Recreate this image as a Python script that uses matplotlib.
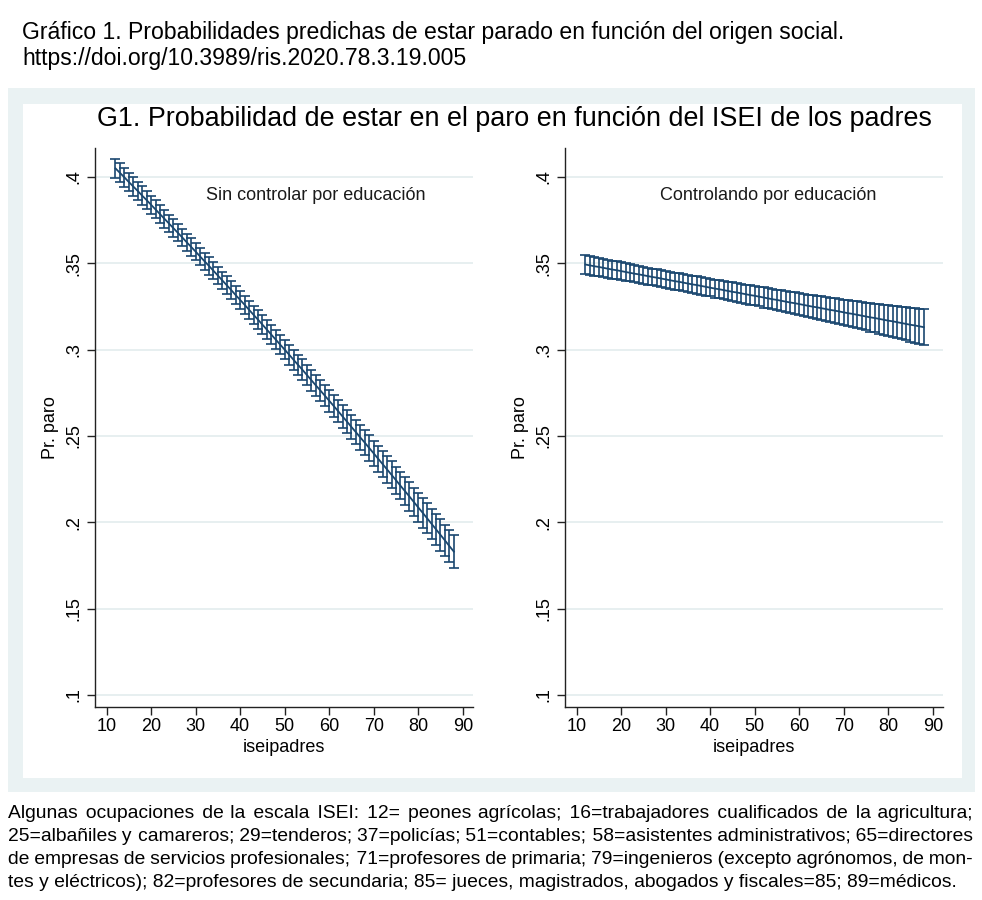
import matplotlib
matplotlib.use("Agg")
import matplotlib.pyplot as plt
from matplotlib.patches import Rectangle

plt.rcParams['font.family'] = ['Liberation Sans', 'DejaVu Sans']

# ---------------- data ----------------
isei = list(range(12, 89))

pred_sin = [0.4050, 0.4024, 0.3998, 0.3971, 0.3945, 0.3919, 0.3892, 0.3866, 0.3839, 0.3812,
            0.3785, 0.3758, 0.3731, 0.3704, 0.3677, 0.3650, 0.3622, 0.3595, 0.3568, 0.3540,
            0.3512, 0.3485, 0.3457, 0.3429, 0.3401, 0.3373, 0.3345, 0.3316, 0.3288, 0.3260,
            0.3231, 0.3202, 0.3174, 0.3145, 0.3116, 0.3087, 0.3058, 0.3029, 0.3000, 0.2971,
            0.2941, 0.2912, 0.2883, 0.2853, 0.2823, 0.2793, 0.2764, 0.2734, 0.2704, 0.2674,
            0.2644, 0.2613, 0.2583, 0.2552, 0.2522, 0.2491, 0.2461, 0.2430, 0.2399, 0.2368,
            0.2337, 0.2306, 0.2275, 0.2244, 0.2212, 0.2181, 0.2150, 0.2118, 0.2086, 0.2055,
            0.2023, 0.1991, 0.1959, 0.1927, 0.1895, 0.1862, 0.1830]
ci_sin = [0.0055, 0.0055, 0.0054, 0.0054, 0.0053, 0.0053, 0.0053, 0.0052, 0.0052, 0.0052,
          0.0051, 0.0051, 0.0051, 0.0051, 0.0050, 0.0050, 0.0050, 0.0050, 0.0050, 0.0050,
          0.0050, 0.0050, 0.0050, 0.0051, 0.0051, 0.0051, 0.0051, 0.0052, 0.0052, 0.0052,
          0.0053, 0.0053, 0.0054, 0.0054, 0.0055, 0.0055, 0.0056, 0.0056, 0.0057, 0.0058,
          0.0058, 0.0059, 0.0060, 0.0060, 0.0061, 0.0062, 0.0062, 0.0063, 0.0064, 0.0065,
          0.0066, 0.0067, 0.0068, 0.0069, 0.0070, 0.0071, 0.0072, 0.0073, 0.0074, 0.0075,
          0.0076, 0.0077, 0.0078, 0.0079, 0.0080, 0.0081, 0.0082, 0.0083, 0.0085, 0.0086,
          0.0087, 0.0088, 0.0089, 0.0091, 0.0092, 0.0093, 0.0095]

pred_con = [0.3493, 0.3488, 0.3483, 0.3479, 0.3474, 0.3469, 0.3464, 0.3460, 0.3455, 0.3450,
            0.3445, 0.3440, 0.3436, 0.3431, 0.3426, 0.3421, 0.3417, 0.3412, 0.3407, 0.3402,
            0.3397, 0.3393, 0.3388, 0.3383, 0.3378, 0.3374, 0.3369, 0.3364, 0.3359, 0.3354,
            0.3350, 0.3345, 0.3340, 0.3335, 0.3331, 0.3326, 0.3321, 0.3316, 0.3312, 0.3307,
            0.3302, 0.3297, 0.3292, 0.3288, 0.3283, 0.3278, 0.3273, 0.3269, 0.3264, 0.3259,
            0.3254, 0.3249, 0.3245, 0.3240, 0.3235, 0.3230, 0.3226, 0.3221, 0.3216, 0.3211,
            0.3207, 0.3202, 0.3197, 0.3192, 0.3187, 0.3183, 0.3178, 0.3173, 0.3168, 0.3164,
            0.3159, 0.3154, 0.3149, 0.3144, 0.3140, 0.3135, 0.3130]
ci_con = [0.0055, 0.0054, 0.0054, 0.0053, 0.0053, 0.0052, 0.0052, 0.0051, 0.0051, 0.0051,
          0.0050, 0.0050, 0.0050, 0.0050, 0.0049, 0.0049, 0.0049, 0.0049, 0.0049, 0.0049,
          0.0049, 0.0050, 0.0050, 0.0050, 0.0050, 0.0050, 0.0051, 0.0051, 0.0051, 0.0052,
          0.0052, 0.0053, 0.0053, 0.0054, 0.0054, 0.0055, 0.0055, 0.0056, 0.0056, 0.0057,
          0.0058, 0.0058, 0.0059, 0.0060, 0.0060, 0.0061, 0.0062, 0.0062, 0.0063, 0.0064,
          0.0065, 0.0066, 0.0067, 0.0068, 0.0069, 0.0070, 0.0071, 0.0072, 0.0074, 0.0075,
          0.0076, 0.0078, 0.0079, 0.0080, 0.0082, 0.0083, 0.0085, 0.0086, 0.0088, 0.0089,
          0.0091, 0.0093, 0.0096, 0.0098, 0.0100, 0.0103, 0.0106]

xticks = [10, 20, 30, 40, 50, 60, 70, 80, 90]
yticks = [0.1, 0.15, 0.2, 0.25, 0.3, 0.35, 0.4]
ytick_labels = ['.1', '.15', '.2', '.25', '.3', '.35', '.4']

header1 = "Gráfico 1. Probabilidades predichas de estar parado en función del origen social."
header2 = "https://doi.org/10.3989/ris.2020.78.3.19.005"
title = "G1. Probabilidad de estar en el paro en función del ISEI de los padres"
panel_labels = ["Sin controlar por educación", "Controlando por educación"]
note_lines = [
    "Algunas ocupaciones de la escala ISEI: 12= peones agrícolas; 16=trabajadores cualificados de la agricultura;",
    "25=albañiles y camareros; 29=tenderos; 37=policías; 51=contables; 58=asistentes administrativos; 65=directores",
    "de empresas de servicios profesionales; 71=profesores de primaria; 79=ingenieros (excepto agrónomos, de mon-",
    "tes y eléctricos); 82=profesores de secundaria; 85= jueces, magistrados, abogados y fiscales=85; 89=médicos.",
]

# ---------------- figure ----------------
W, H = 982, 900
fig = plt.figure(figsize=(W / 100, H / 100), dpi=100)
fig.patch.set_facecolor('white')

def fx(x):
    return x / W

def fy(y):
    return 1 - y / H

BG = '#EAF2F3'
NAVY = '#1a476f'

fig.patches.append(Rectangle((fx(8), fy(792)), (975 - 8) / W, (792 - 88) / H,
                             transform=fig.transFigure, facecolor=BG, edgecolor='none', zorder=-10))
fig.patches.append(Rectangle((fx(23), fy(778)), (962 - 23) / W, (778 - 104) / H,
                             transform=fig.transFigure, facecolor='white', edgecolor='none', zorder=-9))

fig.text(fx(22), fy(32), header1, fontsize=16.55, va='center', ha='left')
fig.text(fx(22), fy(58), header2, fontsize=16.55, va='center', ha='left')
fig.text(fx(514), fy(119), title, fontsize=19.4, va='center', ha='center')

series = [(pred_sin, ci_sin), (pred_con, ci_con)]
lefts = [95, 565]
text_pos = [(57, 0.3895), (53, 0.3895)]
for i, (pred, ci) in enumerate(series):
    ax = fig.add_axes([fx(lefts[i]), fy(707), 378 / W, (707 - 148) / H])
    ax.set_zorder(2)
    ax.set_facecolor('none')
    ax.set_xlim(7.4, 92.3)
    ax.set_ylim(0.093, 0.4168)
    for yt in yticks:
        ax.axhline(yt, color='#E3ECEE', lw=1.2, zorder=0)
    ax.errorbar(isei, pred, yerr=ci, color=NAVY, lw=1.3, elinewidth=1.2,
                capsize=3.4, capthick=1.2, zorder=3)
    ax.spines['top'].set_visible(False)
    ax.spines['right'].set_visible(False)
    for s in ('left', 'bottom'):
        ax.spines[s].set_linewidth(1.0)
        ax.spines[s].set_color('#222222')
    ax.set_xticks(xticks)
    ax.set_xticklabels([str(v) for v in xticks])
    ax.set_yticks(yticks)
    ax.set_yticklabels(ytick_labels, rotation=90, va='center')
    ax.tick_params(axis='both', length=6, width=1.0, color='#222222', labelsize=13)
    ax.tick_params(axis='x', pad=2)
    ax.tick_params(axis='y', pad=3)
    ax.set_xlabel('iseipadres', fontsize=13, labelpad=3)
    ax.set_ylabel('Pr. paro', fontsize=13)
    ax.yaxis.set_label_coords(-0.096, 0.5)
    ax.text(text_pos[i][0], text_pos[i][1], panel_labels[i], fontsize=13,
            ha='center', va='center', color='#1a1a1a')

# justified note (one text per line; gaps built from hair spaces)
renderer = fig.canvas.get_renderer()
FS_NOTE = 13.9
HS = '\u200a'


def text_width(s):
    t = fig.text(0, 0, s, fontsize=FS_NOTE)
    w = t.get_window_extent(renderer=renderer).width
    t.remove()
    return w


hs_w = (text_width('a' + HS * 40 + 'a') - text_width('aa')) / 40.0
x0, x1 = 8, 973
baselines = [818, 841, 864, 887]
for li, line in enumerate(note_lines):
    if li == len(note_lines) - 1:
        s = line
    else:
        words = line.split(' ')
        wsum = sum(text_width(w) for w in words)
        g_t = (x1 - x0 - wsum) / (len(words) - 1)
        err = 0.0
        s = words[0]
        for w in words[1:]:
            want = g_t + err
            k = max(1, int(round(want / hs_w)))
            err = want - k * hs_w
            s += HS * k + w
    fig.text(fx(x0), fy(baselines[li]), s, fontsize=FS_NOTE, va='baseline', ha='left')

fig.savefig('out.png', dpi=100, facecolor='white')
